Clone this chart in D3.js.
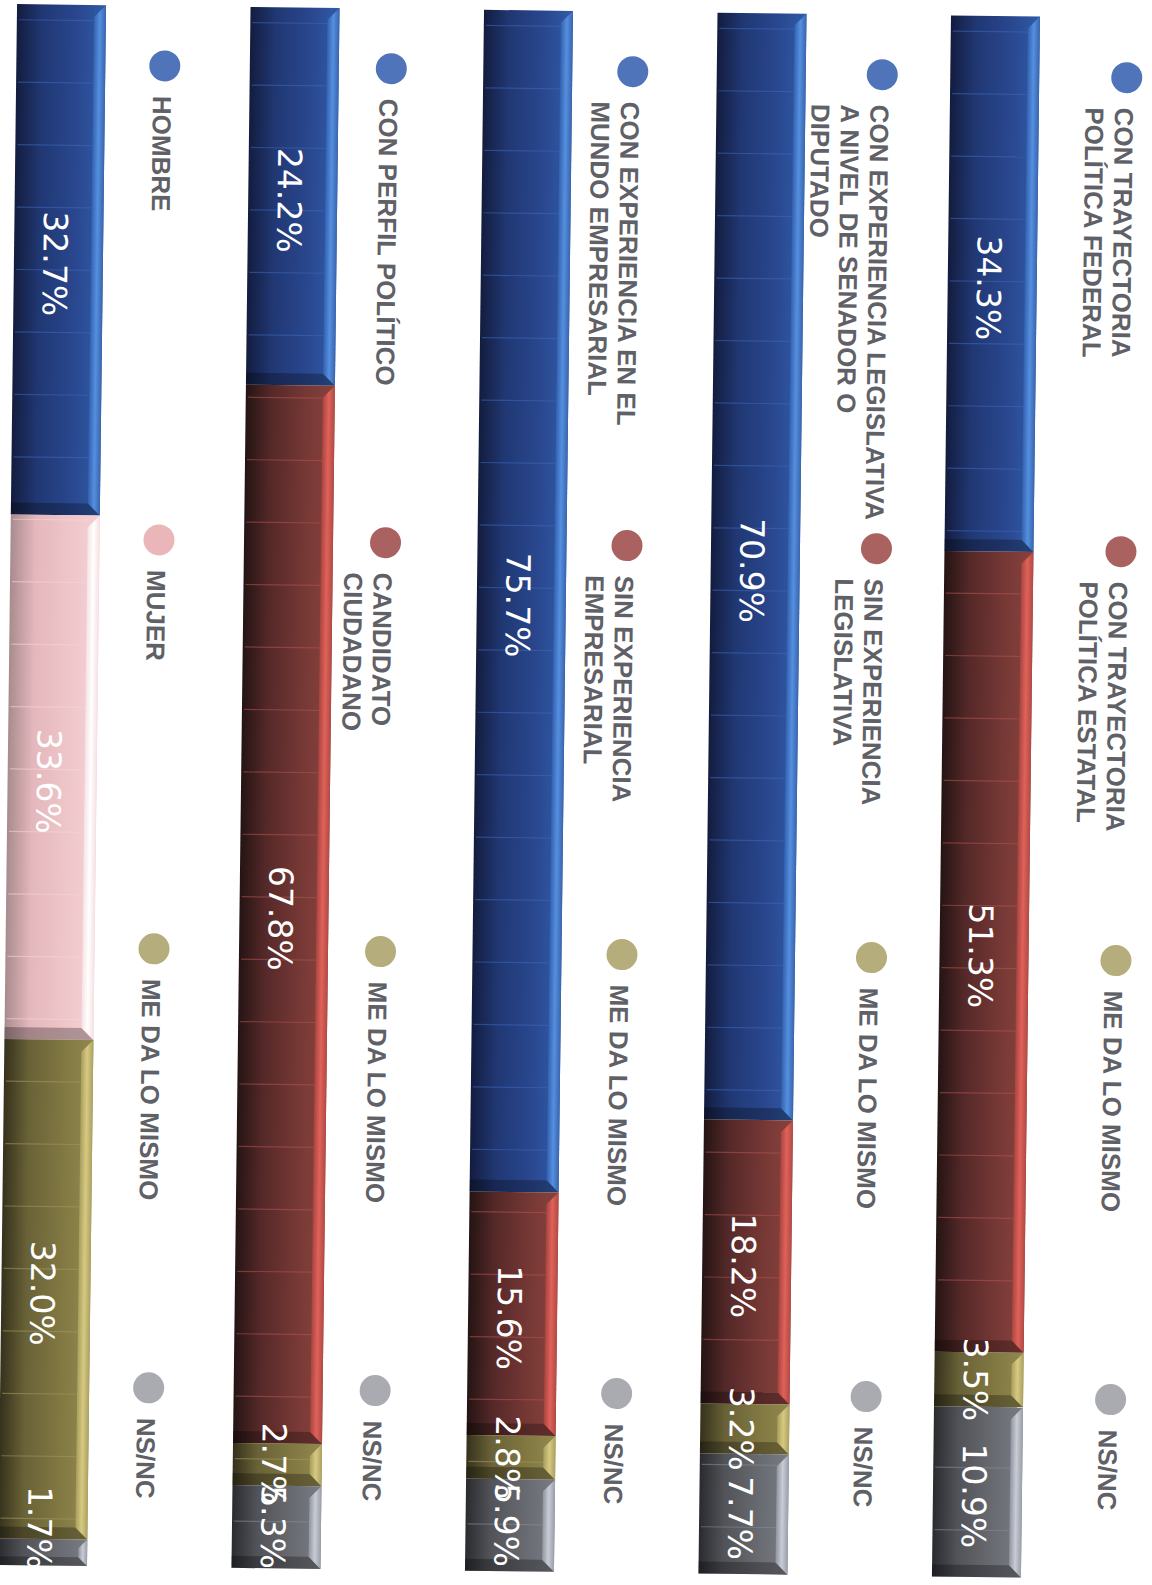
<!DOCTYPE html>
<html><head><meta charset="utf-8">
<script src="https://cdn.jsdelivr.net/npm/d3@7"></script>
<style>html,body{margin:0;padding:0;background:#fff;} svg{display:block;background:#fff}</style>
</head><body>
<svg id="chart" width="1152" height="1585"></svg>
<script>
// ---------- DATA ----------
const panelIds = ["federal", "legislativa", "empresarial", "perfil", "genero"];

const legendFederal = ["CON TRAYECTORIA|POLÍTICA FEDERAL", "CON TRAYECTORIA|POLÍTICA ESTATAL", "ME DA LO MISMO", "NS/NC"];
const valuesFederal = [34.3, 51.3, 3.5, 10.9];

const legendLegislativa = ["CON EXPERIENCIA LEGISLATIVA|A NIVEL DE SENADOR O|DIPUTADO", "SIN EXPERIENCIA|LEGISLATIVA", "ME DA LO MISMO", "NS/NC"];
const valuesLegislativa = [70.9, 18.2, 3.2, 7.7];

const legendEmpresarial = ["CON EXPERIENCIA EN EL|MUNDO EMPRESARIAL", "SIN EXPERIENCIA|EMPRESARIAL", "ME DA LO MISMO", "NS/NC"];
const valuesEmpresarial = [75.7, 15.6, 2.8, 5.9];

const legendPerfil = ["CON PERFIL POLÍTICO", "CANDIDATO|CIUDADANO", "ME DA LO MISMO", "NS/NC"];
const valuesPerfil = [24.2, 67.8, 2.7, 5.3];

const legendGenero = ["HOMBRE", "MUJER", "ME DA LO MISMO", "NS/NC"];
const valuesGenero = [32.7, 33.6, 32.0, 1.7];

const colorKeysStd = ["blue", "red", "olive", "grey"];
const colorKeysGenero = ["blue", "pink", "olive", "grey"];

const gridTicks = d3.range(1, 100, 4);

// ---------- STYLE / LAYOUT ----------
const palette = {
  blue:  {stops: ["#131c3e", "#203772", "#2a4890", "#305ca8"], strip: ["#3460ae", "#5490e0", "#3a64ad"], grid: "#3d68ba", dot: "#4f74ba"},
  red:   {stops: ["#241413", "#542828", "#773936", "#89423d"], strip: ["#a8443f", "#e0625a", "#b04a44"], grid: "#b25550", dot: "#a9625f"},
  olive: {stops: ["#35311c", "#696237", "#827943", "#92894f"], strip: ["#a89d5c", "#d6ca82", "#aca062"], grid: "#a39a5e", dot: "#b5ad7c"},
  grey:  {stops: ["#2a2b2f", "#515358", "#6a6c73", "#7a7c83"], strip: ["#9094a0", "#c8ccd4", "#9a9ea8"], grid: "#8a8c94", dot: "#a9abb0"},
  pink:  {stops: ["#a88b8e", "#e4b7bc", "#efc7cb", "#f3d0d4"], strip: ["#f6e2e4", "#ffffff", "#f6e0e2"], grid: "#f6d6d9", dot: "#ebb6b9"}
};

const panels = [
  {id: "federal", legend: legendFederal, values: valuesFederal, colors: colorKeysStd},
  {id: "legislativa", legend: legendLegislativa, values: valuesLegislativa, colors: colorKeysStd},
  {id: "empresarial", legend: legendEmpresarial, values: valuesEmpresarial, colors: colorKeysStd},
  {id: "perfil", legend: legendPerfil, values: valuesPerfil, colors: colorKeysStd},
  {id: "genero", legend: legendGenero, values: valuesGenero, colors: colorKeysGenero}
];

const legendDx = {federal: 130, legislativa: 119, empresarial: 103, perfil: 95, genero: 102};
const legendItemY = [71, 545, 954, 1393];

const svg = d3.select("#chart");
const defs = svg.append("defs");

Object.entries(palette).forEach(([k, p]) => {
  const lg = defs.append("linearGradient").attr("id", "base-" + k).attr("x1", 0).attr("x2", 1).attr("y1", 0).attr("y2", 0);
  [0, 0.28, 0.7, 1].forEach((o, i) => lg.append("stop").attr("offset", o).attr("stop-color", p.stops[i]));
  const sg = defs.append("linearGradient").attr("id", "strip-" + k).attr("x1", 0).attr("x2", 1).attr("y1", 0).attr("y2", 0);
  [0, 0.5, 1].forEach((o, i) => sg.append("stop").attr("offset", o).attr("stop-color", p.strip[i]));
});

const g = svg.append("g").attr("transform", "rotate(0.7,576,790)");

const y = d3.scaleLinear().domain([0, 100]).range([11, 1572]);
const x = d3.scalePoint().domain(panelIds.slice().reverse()).range([52, 986]);
const barW = 89;

panels.forEach(panel => {
  const cx = x(panel.id);
  const left = cx - barW / 2, right = cx + barW / 2;
  const ends = d3.cumsum(panel.values);
  const pg = g.append("g").attr("class", "panel-" + panel.id);

  const segs = panel.values.map((v, i) => ({
    v, key: panel.colors[i],
    top: y(ends[i] - v), bottom: y(ends[i])
  }));

  segs.forEach(s => {
    const p = palette[s.key];
    const h = s.bottom - s.top;
    const b = Math.min(12, h / 3);
    const sg = pg.append("g");
    sg.append("rect").attr("x", left).attr("y", s.top).attr("width", barW).attr("height", h)
      .attr("fill", `url(#base-${s.key})`);
    sg.selectAll("line.grid").data(gridTicks.filter(t => y(t) > s.top + 3 && y(t) < s.bottom - b - 2))
      .join("line").attr("class", "grid")
      .attr("x1", left + 2).attr("x2", right - b)
      .attr("y1", d => y(d)).attr("y2", d => y(d))
      .attr("stroke", p.grid).attr("stroke-width", 1.2).attr("opacity", 0.55);
    sg.append("polygon")
      .attr("points", [[left, s.bottom - b], [right - b, s.bottom - b], [right, s.bottom], [left, s.bottom]].map(d => d.join(",")).join(" "))
      .attr("fill", "#000").attr("opacity", 0.28);
    sg.append("polygon")
      .attr("points", [[right - b, s.top + b], [right, s.top], [right, s.bottom], [right - b, s.bottom - b]].map(d => d.join(",")).join(" "))
      .attr("fill", `url(#strip-${s.key})`);
  });

  // value labels
  segs.forEach(s => {
    const fs = 33, capH = fs * 0.73;
    const lx = cx - 3 - capH / 2;
    const txt = d3.format(".1f")(s.v) + "%";
    const half = txt.length * fs * 0.33;
    let ly = (s.top + s.bottom) / 2 + (s.bottom - s.top > 120 ? 4 : 0);
    ly = Math.min(ly, 1578 - half);
    pg.append("text")
      .attr("transform", `translate(${lx},${ly}) rotate(90)`)
      .attr("text-anchor", "middle")
      .attr("font-family", "DejaVu Sans, sans-serif")
      .attr("font-size", fs)
      .attr("fill", "#ffffff")
      .text(txt);
  });

  // legend
  const lineCenter = cx + legendDx[panel.id];
  panel.legend.forEach((label, i) => {
    const iy = legendItemY[i];
    const key = panel.colors[i];
    pg.append("circle").attr("cx", lineCenter + 2).attr("cy", iy).attr("r", 15.5).attr("fill", palette[key].dot);
    const fs = 26, capH = fs * 0.72;
    const t = pg.append("text")
      .attr("transform", `translate(${lineCenter - capH / 2},${iy + 30}) rotate(90)`)
      .attr("font-family", "Liberation Sans, Arial, sans-serif")
      .attr("font-weight", "bold")
      .attr("font-size", fs)
      .attr("fill", "#606067");
    label.split("|").forEach((ln, j) => {
      t.append("tspan").attr("x", 0).attr("dy", j === 0 ? 0 : 29.5).text(ln);
    });
  });
});
</script>
</body></html>
